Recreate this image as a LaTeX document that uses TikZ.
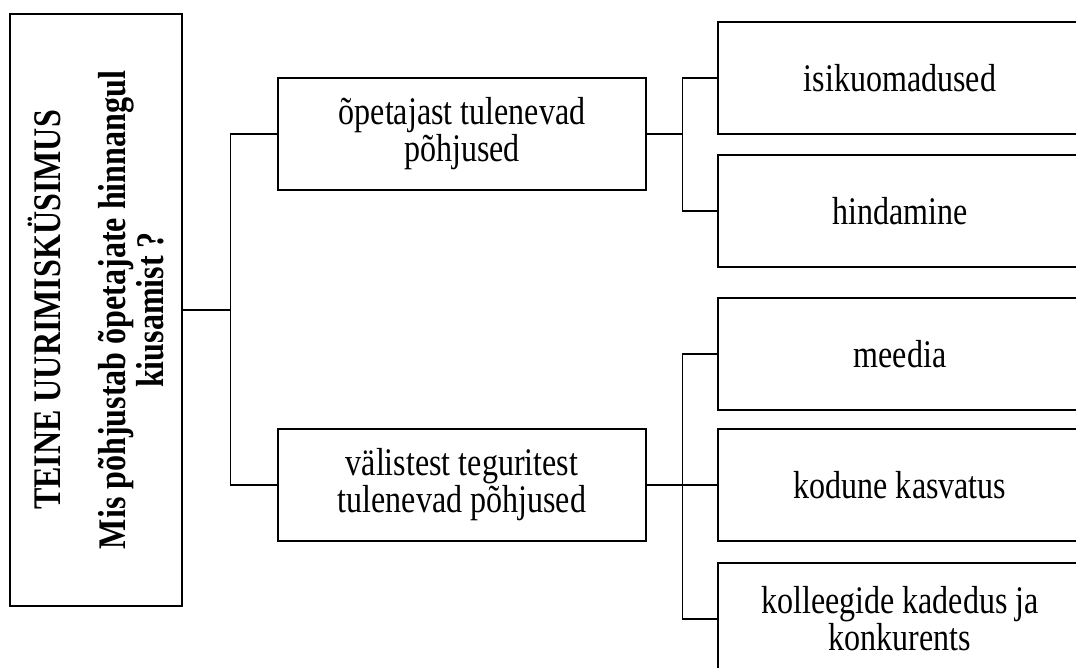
\documentclass[tikz,border=0pt]{standalone}
\usepackage{fontspec}
\setmainfont{Liberation Serif}[FakeStretch=0.82]
\usetikzlibrary{positioning}

\begin{document}
\begin{tikzpicture}[x=0.025cm,y=-0.025cm,line width=0.9pt,
  mid/.style={draw,minimum width=9.2cm,minimum height=2.8cm,align=center,
    font=\fontsize{27.8}{24.9}\selectfont},
  leaf/.style={mid,minimum width=9.1cm}]
\useasboundingbox (0,0) rectangle (1076,668);
\clip (0,0) rectangle (1076,668);
% question box, text turned to read upwards
\node[draw,rotate=90,minimum width=14.8cm,minimum height=4.3cm,align=center,
  font=\fontsize{27.8}{24.9}\selectfont\bfseries] (root) at (96,310)
  {TEINE UURIMISKÜSIMUS\\[0.75cm]Mis põhjustab õpetajate hinnangul\\kiusamist ?};
\node[mid] (cause1) at (462,134) {õpetajast tulenevad\\põhjused};
\node[mid] (cause2) at (462,485) {välistest teguritest\\tulenevad põhjused};
\node[leaf] (trait) at (900,78) {isikuomadused};
\node[leaf] (grade) at (900,211) {hindamine};
\node[leaf] (media) at (900,354) {meedia};
\node[leaf] (home) at (900,485) {kodune kasvatus};
\node[leaf] (envy) at (900,619) {kolleegide kadedus ja\\konkurents};
% connectors
\draw (root.south) -- ++(48,0) coordinate (j0);
\draw (cause1.west) -| (j0) |- (cause2.west);
\draw (cause1.east) -- ++(36,0) coordinate (j1);
\draw (trait.west) -| (j1) |- (grade.west);
\draw (cause2.east) -- ++(36,0) coordinate (j2);
\draw (media.west) -| (j2) |- (envy.west);
\draw (j2) -- (home.west);
\end{tikzpicture}
\end{document}
